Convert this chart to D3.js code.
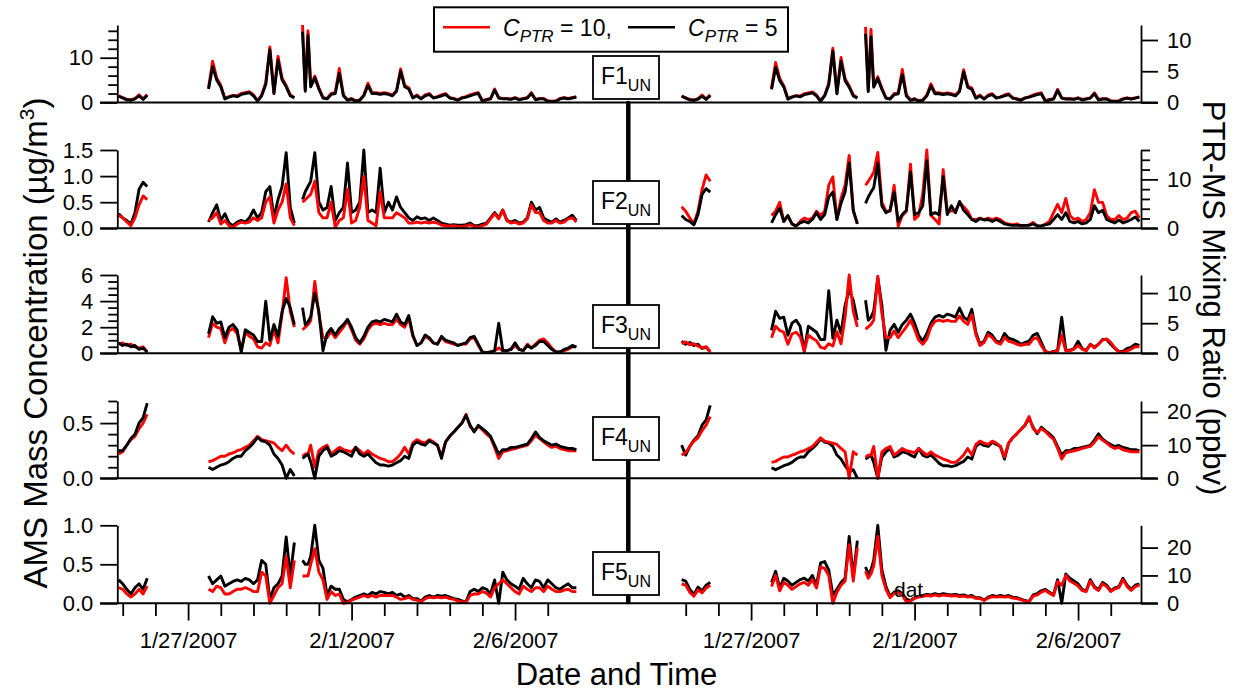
<!DOCTYPE html>
<html>
<head>
<meta charset="utf-8">
<script src="https://cdn.jsdelivr.net/npm/d3@7"></script>
<style>
  body { margin: 0; background: #fff; }
  svg text { font-family: "Liberation Sans", Arial, Helvetica, sans-serif; fill: #000; }
</style>
</head>
<body>
<svg id="chart" width="1246" height="694"></svg>
<script>
// hours after 1/25/2007 00:00 (null rows break the line at the gaps)
const hours = [-3,0,3,6,9,12,15,18,
  40,
  63,66,69,72,75,78,81,84,87,90,
  93,96,99,102,105,108,111,114,117,120,
  123,126,
  129,
  132,134,136,138,
  141,144,147,150,153,156,159,162,165,168,
  171,174,177,180,183,186,189,192,195,198,
  201,204,207,210,213,216,219,222,225,228,
  231,234,237,240,243,246,249,252,255,258,
  261,264,267,270,273,276,279,282,285,288,
  291,294,297,300,303,306,309,312,315,318,
  321,324,327,330,333];

// AMS (left panel), K = C_PTR 5 (black), R = C_PTR 10 (red)
const amsF1K = [1.4,1.0,0.6,0.5,0.8,1.5,0.7,1.6, null,
  3.0,8.0,5.0,3.5,0.8,1.2,1.5,1.3,1.8,2.0,
  2.2,1.5,0.3,1.5,4.0,11.8,2.0,9.5,5.0,3.5,
  1.5,1.0, null,
  15.8,2.5,15.0,3.5,
  5.5,3.0,1.0,0.8,1.8,2.0,6.5,1.5,0.5,0.8,
  0.3,0.5,1.5,3.8,2.0,2.0,1.8,2.0,1.8,1.5,
  2.5,7.0,3.5,3.0,1.0,1.5,0.8,1.5,1.8,1.0,
  1.2,1.5,1.8,1.0,0.8,0.5,1.0,1.2,1.5,1.8,
  2.0,0.3,0.6,0.8,2.8,1.0,0.8,0.8,0.7,1.0,
  0.6,0.8,1.0,2.0,0.6,0.8,0.8,0.3,0.2,0.3,
  0.8,1.0,0.8,1.0,1.2];
const amsF1R = [1.5,1.1,0.7,0.6,0.9,1.7,0.8,1.8, null,
  3.3,9.2,5.5,3.8,0.9,1.3,1.6,1.5,2.0,2.2,
  2.4,1.7,0.4,1.7,4.4,12.4,2.2,10.3,5.4,3.8,
  1.7,1.1, null,
  17.3,2.8,16.0,3.8,
  5.9,3.3,1.1,0.9,2.0,2.2,7.6,1.7,0.6,0.9,
  0.4,0.6,1.7,4.3,2.2,2.2,2.0,2.2,2.0,1.7,
  2.7,7.5,3.8,3.3,1.1,1.7,0.9,1.7,2.0,1.1,
  1.3,1.7,2.0,1.1,0.9,0.6,1.1,1.3,1.7,2.0,
  2.2,0.4,0.7,0.9,3.0,1.1,0.9,0.9,0.8,1.1,
  0.7,0.9,1.1,2.2,0.7,0.9,0.9,0.4,0.3,0.4,
  0.9,1.1,0.9,1.1,1.3];

const amsF2K = [0.28,0.2,0.15,0.08,0.3,0.75,0.88,0.8, null,
  0.12,0.3,0.45,0.15,0.28,0.1,0.05,0.12,0.15,0.12,
  0.2,0.35,0.2,0.3,0.7,0.8,0.2,0.55,0.8,1.45,
  0.4,0.1, null,
  0.55,0.7,0.8,0.9,
  1.45,0.5,0.35,0.4,0.8,0.15,0.3,0.4,1.25,0.3,
  0.35,0.5,1.5,0.3,0.35,0.3,1.15,0.3,0.5,0.35,
  0.6,0.4,0.3,0.2,0.15,0.22,0.18,0.2,0.15,0.2,
  0.15,0.1,0.08,0.06,0.07,0.06,0.06,0.07,0.1,0.05,
  0.05,0.08,0.1,0.2,0.3,0.2,0.35,0.15,0.12,0.15,
  0.1,0.12,0.2,0.5,0.35,0.4,0.2,0.15,0.12,0.18,
  0.12,0.15,0.2,0.25,0.15];
const amsF2R = [0.25,0.2,0.12,0.05,0.2,0.45,0.62,0.55, null,
  0.15,0.2,0.3,0.08,0.15,0.05,0.02,0.08,0.12,0.1,
  0.12,0.2,0.15,0.2,0.5,0.6,0.1,0.35,0.5,0.85,
  0.2,0.05, null,
  0.5,0.55,0.6,0.65,
  0.9,0.3,0.2,0.2,0.5,0.02,0.15,0.2,0.75,0.1,
  0.15,0.4,1.0,0.15,0.1,0.05,0.7,0.2,0.2,0.2,
  0.3,0.25,0.2,0.1,0.1,0.12,0.1,0.12,0.1,0.12,
  0.1,0.06,0.05,0.04,0.05,0.03,0.03,0.04,0.07,0.03,
  0.02,0.05,0.08,0.18,0.28,0.18,0.35,0.15,0.1,0.12,
  0.08,0.1,0.18,0.45,0.3,0.3,0.15,0.1,0.1,0.15,
  0.1,0.12,0.18,0.2,0.12];

const amsF3K = [0.8,0.6,0.7,0.5,0.6,0.3,0.4,0.1, null,
  1.5,2.8,2.3,2.4,1.2,2.0,2.2,1.8,0.1,1.8,
  1.6,1.4,0.9,0.9,4.0,1.0,2.2,1.3,3.2,4.2,
  3.5,2.2, null,
  3.5,2.2,2.4,2.8,
  4.6,3.2,0.2,1.5,1.9,1.4,1.9,2.2,2.6,2.0,
  1.2,0.8,1.3,2.0,2.4,2.5,2.4,2.6,2.5,2.4,
  3.0,2.4,2.2,2.9,1.4,0.6,0.8,1.4,1.2,0.8,
  0.7,1.3,1.0,0.9,0.8,0.6,0.7,0.8,1.2,1.3,
  0.7,0.1,0.05,0.1,0.2,2.3,0.2,0.2,0.3,0.8,
  0.3,0.2,0.6,0.4,0.6,0.9,0.9,0.6,0.3,0.1,
  0.1,0.3,0.4,0.6,0.5];
const amsF3R = [0.7,0.8,0.6,0.7,0.5,0.4,0.5,0.1, null,
  1.2,2.3,2.0,1.9,0.8,1.7,1.9,1.5,0.2,1.6,
  1.3,1.1,0.5,0.4,0.8,0.6,1.8,0.8,3.0,5.8,
  3.2,2.0, null,
  1.8,2.0,2.2,2.5,
  5.5,3.0,1.2,1.2,1.7,1.2,1.6,2.0,2.5,1.8,
  1.0,0.7,1.1,1.8,2.2,2.3,2.2,2.3,2.2,2.2,
  2.6,2.2,2.0,2.7,1.3,0.6,0.8,1.3,1.1,0.8,
  0.7,1.2,0.9,0.8,0.7,0.6,0.7,0.7,1.1,1.2,
  0.6,0.1,0.05,0.1,0.2,0.4,0.2,0.2,0.3,0.6,
  0.3,0.2,0.7,0.4,0.7,1.0,1.1,0.8,0.4,0.1,
  0.1,0.2,0.3,0.5,0.5];

const amsF4K = [0.25,0.25,0.3,0.36,0.4,0.5,0.55,0.68, null,
  0.1,0.08,0.1,0.12,0.13,0.15,0.18,0.2,0.2,0.25,
  0.28,0.32,0.37,0.34,0.33,0.3,0.22,0.18,0.12,0.0,
  0.08,0.02, null,
  0.18,0.2,0.22,0.15,
  0.0,0.2,0.25,0.28,0.2,0.22,0.25,0.24,0.22,0.2,
  0.28,0.22,0.2,0.22,0.18,0.14,0.12,0.12,0.11,0.12,
  0.14,0.16,0.2,0.18,0.3,0.33,0.31,0.3,0.34,0.32,
  0.3,0.18,0.33,0.38,0.42,0.46,0.5,0.57,0.48,0.42,
  0.48,0.45,0.42,0.38,0.3,0.22,0.26,0.26,0.28,0.28,
  0.29,0.3,0.31,0.36,0.42,0.37,0.34,0.32,0.3,0.31,
  0.29,0.28,0.27,0.27,0.26];
const amsF4R = [0.22,0.24,0.3,0.35,0.38,0.45,0.5,0.58, null,
  0.15,0.16,0.18,0.2,0.2,0.22,0.23,0.25,0.26,0.28,
  0.3,0.34,0.38,0.35,0.34,0.33,0.32,0.28,0.25,0.3,
  0.25,0.22, null,
  0.2,0.22,0.22,0.3,
  0.1,0.25,0.28,0.3,0.22,0.25,0.28,0.26,0.25,0.24,
  0.28,0.25,0.22,0.25,0.22,0.2,0.18,0.17,0.15,0.15,
  0.18,0.22,0.28,0.22,0.32,0.35,0.33,0.32,0.35,0.33,
  0.3,0.2,0.33,0.38,0.42,0.46,0.5,0.58,0.47,0.43,
  0.47,0.44,0.4,0.37,0.28,0.18,0.24,0.25,0.26,0.27,
  0.28,0.29,0.3,0.34,0.39,0.36,0.33,0.3,0.28,0.29,
  0.27,0.26,0.25,0.25,0.25];

const amsF5K = [0.3,0.25,0.18,0.12,0.2,0.25,0.18,0.32, null,
  0.35,0.25,0.3,0.35,0.22,0.25,0.28,0.3,0.28,0.32,
  0.3,0.25,0.3,0.55,0.5,0.05,0.2,0.25,0.35,0.85,
  0.35,0.78, null,
  0.55,0.5,0.5,0.6,
  1.0,0.55,0.45,0.1,0.22,0.18,0.18,0.05,0.02,0.05,
  0.08,0.1,0.12,0.1,0.14,0.12,0.15,0.14,0.12,0.14,
  0.1,0.12,0.08,0.1,0.06,0.06,0.03,0.08,0.1,0.08,
  0.1,0.09,0.1,0.08,0.06,0.05,0.03,0.02,0.15,0.18,
  0.15,0.2,0.18,0.12,0.3,0.0,0.4,0.3,0.25,0.22,
  0.18,0.32,0.25,0.2,0.3,0.28,0.2,0.3,0.25,0.2,
  0.18,0.22,0.25,0.2,0.2];
const amsF5R = [0.2,0.18,0.12,0.08,0.12,0.18,0.12,0.22, null,
  0.18,0.15,0.22,0.2,0.12,0.12,0.15,0.18,0.18,0.2,
  0.18,0.15,0.15,0.4,0.35,0.0,0.1,0.2,0.25,0.6,
  0.2,0.55, null,
  0.35,0.35,0.35,0.5,
  0.7,0.4,0.3,0.05,0.15,0.1,0.12,0.0,0.01,0.04,
  0.06,0.08,0.1,0.08,0.1,0.08,0.1,0.1,0.1,0.1,
  0.08,0.05,0.06,0.08,0.05,0.04,0.02,0.06,0.08,0.07,
  0.08,0.07,0.08,0.06,0.05,0.03,0.02,0.01,0.1,0.12,
  0.12,0.15,0.13,0.08,0.2,0.25,0.3,0.25,0.2,0.15,
  0.12,0.22,0.18,0.15,0.2,0.2,0.15,0.22,0.18,0.15,
  0.15,0.17,0.18,0.15,0.15];

// PTR-MS (right panel)
const ptrF1K = [1.0,0.7,0.4,0.35,0.55,1.0,0.5,1.1, null,
  2.1,5.6,3.5,2.5,0.55,0.85,1.05,0.9,1.25,1.4,
  1.55,1.05,0.2,1.05,2.8,8.2,1.4,6.6,3.5,2.45,
  1.05,0.7, null,
  11.0,1.75,10.5,2.45,
  3.85,2.1,0.7,0.55,1.25,1.4,4.5,1.05,0.35,0.55,
  0.2,0.35,1.05,2.65,1.4,1.4,1.25,1.4,1.25,1.05,
  1.75,4.9,2.45,2.1,0.7,1.05,0.55,1.05,1.25,0.7,
  0.85,1.05,1.25,0.7,0.55,0.35,0.7,0.85,1.05,1.25,
  1.4,0.2,0.4,0.55,1.95,0.7,0.55,0.55,0.5,0.7,
  0.4,0.55,0.7,1.4,0.4,0.55,0.55,0.2,0.15,0.2,
  0.55,0.7,0.55,0.7,0.85];
const ptrF1R = [1.05,0.75,0.5,0.4,0.6,1.2,0.55,1.25, null,
  2.3,6.4,3.85,2.65,0.6,0.9,1.1,1.05,1.4,1.55,
  1.7,1.2,0.3,1.2,3.1,8.7,1.55,7.2,3.8,2.65,
  1.2,0.75, null,
  12.1,1.95,11.7,2.65,
  4.1,2.3,0.75,0.6,1.4,1.55,5.3,1.2,0.4,0.6,
  0.3,0.4,1.2,3.0,1.55,1.55,1.4,1.55,1.4,1.2,
  1.9,5.25,2.65,2.3,0.75,1.2,0.6,1.2,1.4,0.75,
  0.9,1.2,1.4,0.75,0.6,0.4,0.75,0.9,1.2,1.4,
  1.55,0.3,0.5,0.6,2.1,0.75,0.6,0.6,0.55,0.75,
  0.5,0.6,0.75,1.55,0.5,0.6,0.6,0.3,0.2,0.3,
  0.6,0.75,0.6,0.75,0.9];

const ptrF2K = [2.6,1.8,1.4,0.7,2.8,6.9,8.1,7.4, null,
  1.1,2.8,4.1,1.4,2.6,0.9,0.5,1.1,1.4,1.1,
  1.8,3.2,1.8,2.8,6.4,7.4,1.8,5.1,7.4,13.3,
  3.7,0.9, null,
  5.1,6.4,7.4,8.3,
  13.3,4.6,3.2,3.7,7.4,1.4,2.8,3.7,11.5,2.8,
  3.2,4.6,13.8,2.8,3.2,2.8,10.6,2.8,4.6,3.2,
  5.5,3.7,2.8,1.8,1.4,2.0,1.7,1.8,1.4,1.8,
  1.4,0.9,0.7,0.6,0.6,0.6,0.6,0.6,0.9,0.5,
  0.5,0.7,0.9,1.8,2.8,1.8,3.2,1.4,1.1,1.4,
  0.9,1.1,1.8,4.6,3.2,3.7,1.8,1.4,1.1,1.7,
  1.1,1.4,1.8,2.3,1.4];
const ptrF2R = [4.4,3.5,2.1,0.9,3.5,7.9,10.9,9.6, null,
  2.6,3.5,5.3,1.4,2.6,0.9,0.4,1.4,2.1,1.8,
  2.1,3.5,2.6,3.5,8.8,10.5,1.8,6.1,8.8,14.9,
  3.5,0.9, null,
  8.8,9.6,10.5,11.4,
  15.5,5.3,3.5,3.5,8.8,0.4,2.6,3.5,13.1,1.8,
  2.6,7.0,16.0,2.6,1.8,0.9,12.0,3.5,3.5,3.5,
  5.3,4.4,3.5,1.8,1.8,2.1,1.8,2.1,1.8,2.1,
  1.8,1.1,0.9,0.7,0.9,0.5,0.5,0.7,1.2,0.5,
  0.4,0.9,1.4,3.2,4.9,3.2,6.1,2.6,1.8,2.1,
  1.4,1.8,3.2,7.9,5.3,5.3,2.6,1.8,1.8,2.6,
  1.8,2.1,3.2,3.5,2.1];

const ptrF3K = [2.0,1.5,1.8,1.3,1.5,0.8,1.0,0.3, null,
  3.8,7.0,5.8,6.0,3.0,5.0,5.5,4.5,0.3,4.5,
  4.0,3.5,2.3,2.3,10.4,2.5,5.5,3.3,8.0,10.5,
  8.8,5.5, null,
  8.8,5.5,6.0,7.0,
  12.5,8.0,0.5,3.8,4.8,3.5,4.8,5.5,6.5,5.0,
  3.0,2.0,3.3,5.0,6.0,6.3,6.0,6.5,6.3,6.0,
  7.5,6.0,5.5,7.3,3.5,1.5,2.0,3.5,3.0,2.0,
  1.8,3.3,2.5,2.3,2.0,1.5,1.8,2.0,3.0,3.3,
  1.8,0.3,0.1,0.3,0.5,6.0,0.5,0.5,0.8,2.0,
  0.8,0.5,1.5,1.0,1.5,2.3,2.3,1.5,0.8,0.3,
  0.3,0.8,1.0,1.5,1.3];
const ptrF3R = [1.6,1.9,1.4,1.6,1.2,0.9,1.1,0.2, null,
  2.6,4.5,3.8,3.5,1.5,3.2,3.5,2.8,0.4,3.0,
  2.5,2.1,1.0,0.8,1.6,1.2,3.6,1.6,6.0,13.0,
  7.0,4.4, null,
  4.0,4.4,4.8,5.5,
  12.8,6.6,2.6,2.6,3.7,2.6,3.5,4.4,5.5,4.0,
  2.2,1.5,2.4,4.4,5.3,5.5,5.3,5.5,5.3,5.3,
  6.2,5.3,4.8,6.4,3.1,1.3,1.8,3.1,2.6,1.8,
  1.5,2.6,2.0,1.8,1.5,1.3,1.5,1.5,2.4,2.6,
  1.3,0.2,0.1,0.2,0.4,3.0,0.4,0.4,0.7,1.3,
  0.7,0.4,1.5,0.9,1.5,2.2,2.4,1.8,0.9,0.2,
  0.2,0.4,0.7,1.1,1.1];

const ptrF4K = [10.0,7.0,9.6,11.5,12.8,16.0,17.6,22.0, null,
  3.2,2.6,3.2,3.8,4.2,4.8,5.8,6.4,6.4,8.0,
  9.0,10.2,11.8,10.9,10.6,9.6,7.0,5.8,3.8,2.0,
  2.6,0.0, null,
  5.8,6.4,7.0,4.8,
  0.0,6.4,8.0,9.0,6.4,7.0,8.0,7.7,7.0,6.4,
  9.0,7.0,6.4,7.0,5.8,4.5,3.8,3.8,3.5,3.8,
  4.5,5.1,6.4,5.8,9.6,10.6,9.9,9.6,10.9,10.2,
  9.6,5.8,10.6,12.2,13.4,14.7,16.0,18.2,15.4,13.4,
  15.4,14.4,13.4,12.2,9.6,7.0,8.3,8.3,9.0,9.0,
  9.3,9.6,9.9,11.5,13.4,11.8,10.9,10.2,9.6,9.9,
  9.3,9.0,8.6,8.6,8.3];
const ptrF4R = [7.0,7.7,9.6,11.2,12.2,14.4,16.0,18.6, null,
  4.8,5.1,5.8,6.4,6.4,7.0,7.4,8.0,8.3,9.0,
  9.6,10.9,12.2,11.2,10.9,10.6,10.2,9.0,8.0,0.0,
  8.0,7.0, null,
  6.4,7.0,7.0,9.6,
  0.0,8.0,9.0,9.6,7.0,8.0,9.0,8.3,8.0,7.7,
  9.0,8.0,7.0,8.0,7.0,6.4,5.8,5.4,4.8,4.8,
  5.8,7.0,9.0,7.0,10.2,11.2,10.6,10.2,11.2,10.6,
  9.6,6.4,10.6,12.2,13.4,14.7,16.0,18.6,15.0,13.8,
  15.0,14.1,12.8,11.8,9.0,5.8,7.7,8.0,8.3,8.6,
  9.0,9.3,9.6,10.9,12.5,11.5,10.6,9.6,9.0,9.3,
  8.6,8.3,8.0,8.0,8.0];

const ptrF5K = [8.5,8.0,5.0,3.2,5.8,4.5,6.5,7.5, null,
  7.5,11.5,5.5,9.0,8.0,6.5,7.5,8.5,9.0,8.0,
  10.0,6.5,14.5,15.0,12.0,3.0,5.0,7.5,9.0,24.0,
  9.5,22.5, null,
  13.0,10.5,12.0,15.5,
  28.0,12.0,6.0,2.5,4.0,4.5,3.5,1.5,1.0,2.0,
  2.5,2.8,3.2,3.0,3.5,3.0,3.5,3.2,3.0,3.2,
  2.8,3.0,2.5,2.8,2.0,2.0,1.2,2.2,2.8,2.5,
  2.8,2.5,2.8,2.2,2.0,1.5,1.0,0.6,3.0,3.5,
  4.5,5.0,4.0,3.0,8.5,0.0,10.5,9.0,8.0,7.0,
  5.0,4.5,8.5,6.0,5.0,7.5,6.5,4.5,5.5,6.0,
  9.0,6.5,5.0,6.5,7.0];
const ptrF5R = [7.0,6.5,4.0,2.5,4.8,3.8,5.5,6.5, null,
  6.0,10.0,4.5,7.5,6.5,5.0,6.0,7.0,7.5,6.5,
  8.5,5.5,13.0,12.5,10.0,0.0,4.0,6.5,8.0,21.0,
  8.0,20.0, null,
  11.5,9.0,10.5,13.5,
  24.0,10.0,5.0,2.0,3.5,3.8,3.0,0.5,0.8,1.8,
  2.2,2.5,2.8,2.6,3.0,2.6,3.0,2.8,2.6,2.8,
  2.4,2.6,2.2,2.4,1.8,1.7,1.0,1.9,2.4,2.2,
  2.4,2.2,2.4,1.9,1.7,1.3,0.8,0.5,2.6,3.0,
  4.0,4.6,3.6,2.8,7.8,6.5,10.0,8.0,7.2,6.2,
  4.6,4.2,8.0,5.6,4.6,7.0,6.0,4.2,5.2,5.6,
  8.5,6.0,4.6,6.0,6.5];

const factorNames = ["F1", "F2", "F3", "F4", "F5"];
const amsMax = [17.3, 1.5, 6, 0.7, 1.0];
const ptrMax = [12.4, 16, 13, 23.3, 28];
const amsMajor = [[0, 10], [0, 0.5, 1, 1.5], [0, 2, 4, 6], [0, 0.5], [0, 0.5, 1]];
const amsLabels = [["0", "10"], ["0.0", "0.5", "1.0", "1.5"], ["0", "2", "4", "6"], ["0.0", "0.5"], ["0.0", "0.5", "1.0"]];
const amsMinor = [[2, 4, 6, 8, 12, 14, 16], [], [0.5, 1, 1.5, 2.5, 3, 3.5, 4.5, 5, 5.5], [0.1, 0.2, 0.3, 0.4, 0.6, 0.7], []];
const ptrMajor = [[0, 5, 10], [0, 10], [0, 5, 10], [0, 10, 20], [0, 10, 20]];
const ptrMinor = [[], [2, 4, 6, 8, 12, 14, 16], [], [], []];
const dateLabels = ["1/27/2007", "2/1/2007", "2/6/2007"];

const amsSeries = [[amsF1R, amsF1K], [amsF2R, amsF2K], [amsF3R, amsF3K], [amsF4R, amsF4K], [amsF5R, amsF5K]];
const ptrSeries = [[ptrF1R, ptrF1K], [ptrF2R, ptrF2K], [ptrF3R, ptrF3K], [ptrF4R, ptrF4K], [ptrF5R, ptrF5K]];
// which trace sits on top in each panel
const amsOnTop = ["K", "R", "K", "K", "R"];
const ptrOnTop = ["K", "K", "R", "R", "R"];

const svg = d3.select("#chart");
const FONT = '"Liberation Sans", Arial, Helvetica, sans-serif';
const t0 = new Date(2007, 0, 25);
const toDate = h => new Date(t0.getTime() + h * 3600e3);

const xLeft = d3.scaleTime()
  .domain([new Date(2007, 0, 24, 20, 2), new Date(2007, 1, 7, 22, 12)])
  .range([117.3, 578]);
const xRight = xLeft.copy().range([680.3, 1141]);

const rowTop = [25, 150, 275, 401, 525.3];
const rowBot = [102.5, 228.3, 353.3, 478.3, 603.3];
const fmtDate = d3.timeFormat("%-m/%-d/%Y");

function styleAxis(g) {
  g.attr("font-family", FONT).attr("font-size", 22);
  g.selectAll("line").attr("stroke", "#000").attr("stroke-width", 1.8);
  g.selectAll("path").attr("stroke", "#000").attr("stroke-width", 1.8);
  g.selectAll("text").attr("fill", "#000");
}

function drawTraces(x, y, pair, top) {
  let line = d3.line()
    .defined(d => d[1] != null)
    .x(d => x(toDate(d[0])))
    .y(d => y(d[1]));
  let traces = [{ v: pair[0], c: "#ff0000", k: "R" }, { v: pair[1], c: "#000000", k: "K" }];
  if (top == "R") traces.reverse();
  traces.forEach(tr => {
    if (tr.v.length != hours.length) console.warn("length mismatch", tr.v.length);
    svg.append("path")
      .datum(hours.map((h, j) => [h, tr.v[j]]))
      .attr("fill", "none")
      .attr("stroke", tr.c)
      .attr("stroke-width", 2.9)
      .attr("stroke-linejoin", "round")
      .attr("d", line);
  });
}

for (let i = 0; i < 5; i++) {
  let yL = d3.scaleLinear().domain([0, amsMax[i]]).range([rowBot[i], rowTop[i]]);
  let yR = d3.scaleLinear().domain([0, ptrMax[i]]).range([rowBot[i], rowTop[i]]);

  drawTraces(xLeft, yL, amsSeries[i], amsOnTop[i]);
  drawTraces(xRight, yR, ptrSeries[i], ptrOnTop[i]);

  // zero line runs across both panels
  svg.append("line")
    .attr("x1", 100).attr("x2", 1157.7)
    .attr("y1", rowBot[i]).attr("y2", rowBot[i])
    .attr("stroke", "#000").attr("stroke-width", 2);

  let gl = svg.append("g").attr("transform", "translate(117.3,0)")
    .call(d3.axisLeft(yL).tickValues(amsMajor[i]).tickSize(17).tickSizeOuter(0).tickPadding(7)
      .tickFormat((d, k) => amsLabels[i][k]));
  styleAxis(gl);
  if (amsMinor[i].length) {
    let gm = svg.append("g").attr("transform", "translate(117.3,0)")
      .call(d3.axisLeft(yL).tickValues(amsMinor[i]).tickSize(9).tickFormat(""));
    gm.select(".domain").remove();
    styleAxis(gm);
  }

  let gr = svg.append("g").attr("transform", "translate(1141,0)")
    .call(d3.axisRight(yR).tickValues(ptrMajor[i]).tickSize(17).tickSizeOuter(0).tickPadding(9)
      .tickFormat(d3.format("d")));
  styleAxis(gr);
  if (ptrMinor[i].length) {
    let gm = svg.append("g").attr("transform", "translate(1141,0)")
      .call(d3.axisRight(yR).tickValues(ptrMinor[i]).tickSize(9).tickFormat(""));
    gm.select(".domain").remove();
    styleAxis(gm);
  }
}

// date axes under both panels
[xLeft, xRight].forEach(x => {
  let g = svg.append("g").attr("transform", "translate(0," + rowBot[4] + ")")
    .call(d3.axisBottom(x).ticks(d3.timeDay.every(1)).tickSize(12.7).tickPadding(16.5)
      .tickFormat(d => dateLabels.includes(fmtDate(d)) ? fmtDate(d) : ""));
  g.select(".domain").remove();
  g.selectAll(".tick").filter(d => dateLabels.includes(fmtDate(d)))
    .select("line").attr("y2", 17.3);
  styleAxis(g);
});

// divider between the two panels
svg.append("line")
  .attr("x1", 628.3).attr("x2", 628.3).attr("y1", 103).attr("y2", 602)
  .attr("stroke", "#000").attr("stroke-width", 4.5).attr("stroke-linecap", "round");

const boxTop = [56, 181, 305, 417, 552];
factorNames.forEach((f, i) => {
  svg.append("rect")
    .attr("x", 593).attr("y", boxTop[i]).attr("width", 66).attr("height", 43)
    .attr("fill", "#fff").attr("stroke", "#000").attr("stroke-width", 1.8);
  let t = svg.append("text").attr("x", 626).attr("y", boxTop[i] + 28)
    .attr("text-anchor", "middle").attr("font-size", 23);
  t.append("tspan").text(f);
  t.append("tspan").attr("font-size", 16).attr("dy", 6.5).text("UN");
});

// stray label left in the original figure
svg.append("text").attr("x", 894).attr("y", 597).attr("font-size", 21).attr("fill", "#222").text("dat");

// legend
svg.append("rect").attr("x", 434).attr("y", 7.3).attr("width", 354).attr("height", 44.4)
  .attr("fill", "#fff").attr("stroke", "#000").attr("stroke-width", 2);
svg.append("line").attr("x1", 443).attr("x2", 490).attr("y1", 27.3).attr("y2", 27.3)
  .attr("stroke", "#ff0000").attr("stroke-width", 2.6);
svg.append("line").attr("x1", 628).attr("x2", 675).attr("y1", 27.3).attr("y2", 27.3)
  .attr("stroke", "#000").attr("stroke-width", 2.6);
[[503, " = 10,"], [688, " = 5"]].forEach(([lx, rest]) => {
  let t = svg.append("text").attr("x", lx).attr("y", 36).attr("font-size", 23);
  t.append("tspan").attr("font-style", "italic").text("C");
  t.append("tspan").attr("font-style", "italic").attr("font-size", 17).attr("dy", 6).text("PTR");
  t.append("tspan").attr("dy", -6).text(rest);
});

// axis titles
let lt = svg.append("text").attr("transform", "translate(47,343) rotate(-90)")
  .attr("text-anchor", "middle").attr("font-size", 33);
lt.append("tspan").text("AMS Mass Concentration (\u00b5g/m");
lt.append("tspan").attr("font-size", 21).attr("dy", -13).text("3");
lt.append("tspan").attr("dy", 13).text(")");

svg.append("text").attr("transform", "translate(1203,298) rotate(90)")
  .attr("text-anchor", "middle").attr("font-size", 31)
  .text("PTR-MS Mixing Ratio (ppbv)");

svg.append("text").attr("x", 616.5).attr("y", 685)
  .attr("text-anchor", "middle").attr("font-size", 31)
  .text("Date and Time");
</script>
</body>
</html>
